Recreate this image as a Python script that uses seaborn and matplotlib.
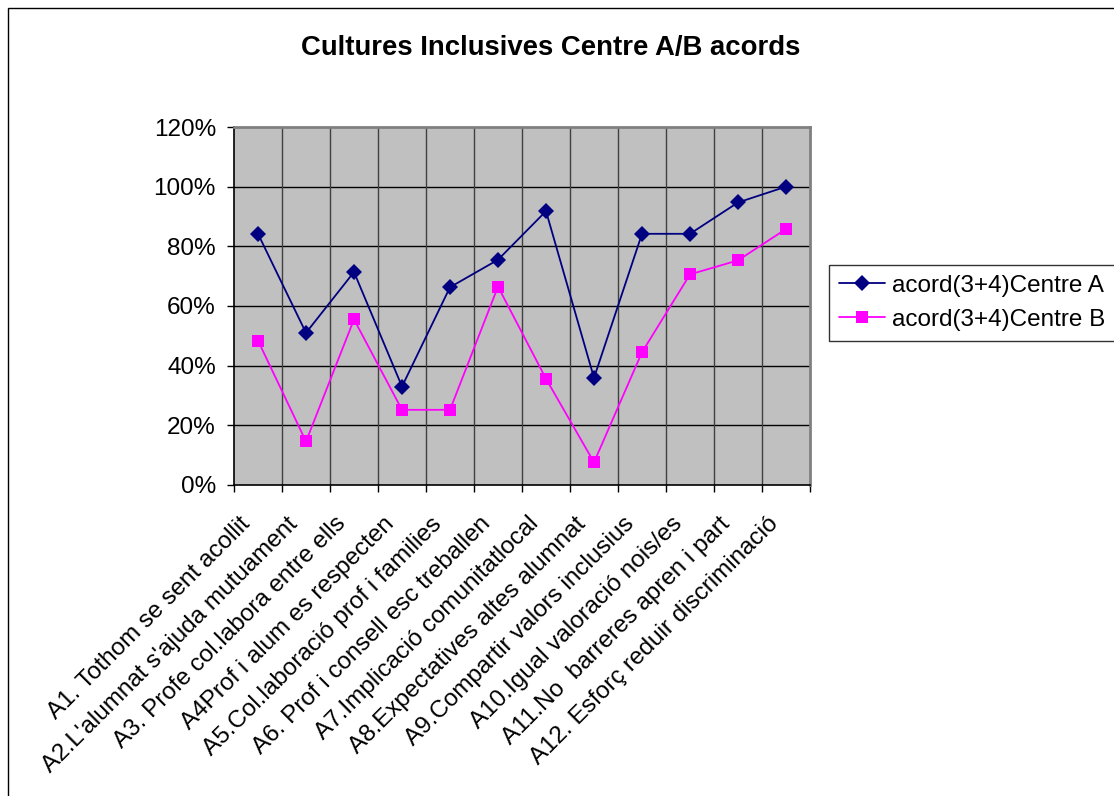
import matplotlib
matplotlib.use("Agg")
import matplotlib.pyplot as plt
import matplotlib.transforms as mtransforms
import seaborn as sns
import pandas as pd
import numpy as np
from matplotlib.patches import Rectangle
from matplotlib.ticker import PercentFormatter, FixedLocator

categories = [
    "A1. Tothom se sent acollit",
    "A2.L'alumnat s'ajuda mutuament",
    "A3. Profe col.labora entre ells",
    "A4Prof i alum es respecten",
    "A5.Col.laboració prof i families",
    "A6. Prof i consell esc treballen",
    "A7.Implicació comunitatlocal",
    "A8.Expectatives altes alumnat",
    "A9.Compartir valors inclusius",
    "A10.Igual valoració nois/es",
    "A11.No  barreres apren i part",
    "A12. Esforç reduir discriminació",
]
centre_a = [0.842, 0.510, 0.714, 0.330, 0.663, 0.755, 0.918, 0.359, 0.842, 0.842, 0.947, 1.000]
centre_b = [0.484, 0.146, 0.555, 0.252, 0.252, 0.665, 0.356, 0.076, 0.445, 0.706, 0.753, 0.858]
series_names = ["acord(3+4)Centre A", "acord(3+4)Centre B"]
yticks = [0.0, 0.2, 0.4, 0.6, 0.8, 1.0, 1.2]

sns.set_style("white")
plt.rcParams["font.family"] = ["Liberation Sans", "DejaVu Sans"]
plt.rcParams["text.color"] = "black"
plt.rcParams["axes.labelcolor"] = "black"
plt.rcParams["xtick.color"] = "black"
plt.rcParams["ytick.color"] = "black"

W, H = 1114, 796
fig = plt.figure(figsize=(W / 100, H / 100), dpi=100)
fig.patch.set_facecolor("white")

# outer chart frame (cut by the figure on right and bottom)
fig.patches.append(Rectangle((8 / W, -0.05), 1.2, 1.05 - 8 / H, transform=fig.transFigure,
                             fill=False, edgecolor="black", lw=1.0, zorder=0))

L, R, T, B = 234, 810, 127, 485
ax = fig.add_axes([L / W, 1 - B / H, (R - L) / W, (B - T) / H])
ax.set_facecolor("#C0C0C0")

idx = list(range(len(categories)))
df = pd.DataFrame({
    "x": idx + idx,
    "val": centre_a + centre_b,
    "serie": [series_names[0]] * len(idx) + [series_names[1]] * len(idx),
})

sns.lineplot(data=df, x="x", y="val", hue="serie", style="serie",
             palette={series_names[0]: "#000080", series_names[1]: "#FF00FF"},
             markers={series_names[0]: "D", series_names[1]: "s"},
             dashes=False, markersize=8, markeredgewidth=0, linewidth=1.3,
             ax=ax, zorder=5)

ax.set_xlim(-0.5, len(categories) - 0.5)
ax.set_ylim(0, 1.2)

# y axis
ax.yaxis.set_major_locator(FixedLocator(yticks))
ax.yaxis.set_major_formatter(PercentFormatter(1.0, decimals=0))
ax.tick_params(axis="y", which="major", direction="out", length=5, width=1,
               color="black", pad=8, labelsize=17.5, left=True, labelcolor="black")

# x axis: labels at centres, ticks/grid at boundaries
ax.set_xticks(idx)
ax.set_xticklabels(categories, rotation=45, ha="right", va="top",
                   rotation_mode="anchor", fontsize=17.5, color="black")
ax.set_xticks([i - 0.5 for i in range(len(categories) + 1)], minor=True)
ax.tick_params(axis="x", which="major", length=0, pad=20)
ax.tick_params(axis="x", which="minor", direction="out", length=5, width=1,
               color="black", bottom=True)
shift = mtransforms.ScaledTranslation(-19 / 100, 0, fig.dpi_scale_trans)
for lab in ax.get_xticklabels():
    lab.set_transform(lab.get_transform() + shift)

ax.grid(False)
for y in yticks[1:-1]:
    ax.axhline(y, color="black", lw=1.0, zorder=1)
for xb in range(1, len(categories)):
    ax.axvline(xb - 0.5, color="#404040", lw=1.0, zorder=1)

ax.set_xlabel("")
ax.set_ylabel("")

for side in ["top", "right"]:
    ax.spines[side].set_color("#808080")
    ax.spines[side].set_linewidth(2)
for side in ["left", "bottom"]:
    ax.spines[side].set_color("black")
    ax.spines[side].set_linewidth(1.2)

fig.text(551 / W, 1 - 48 / H, "Cultures Inclusives Centre A/B acords",
         ha="center", va="center", fontsize=19.8, fontweight="bold", color="black")

handles, labels = ax.get_legend_handles_labels()
leg = ax.legend(handles, labels, loc="upper left",
                bbox_to_anchor=(829 / W, 1 - 265 / H), bbox_transform=fig.transFigure,
                frameon=True, fancybox=False, edgecolor="black", fontsize=17.5,
                handlelength=1.9, handletextpad=0.3, borderpad=0.4, labelspacing=0.5,
                borderaxespad=0)
leg.get_frame().set_linewidth(1.0)
for t in leg.get_texts():
    t.set_color("black")

fig.savefig("out.png", dpi=100, facecolor="white")
